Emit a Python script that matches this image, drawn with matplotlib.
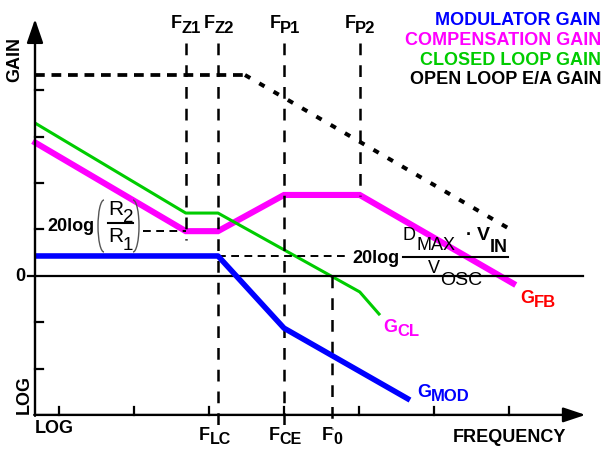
import matplotlib
matplotlib.use('Agg')
import matplotlib.pyplot as plt
from matplotlib import transforms as mtransforms
from matplotlib.patches import Arc

plt.rcParams['font.family'] = ['Liberation Sans', 'DejaVu Sans']

W, H, DPI = 603, 449, 100

# ---- data (x: log-frequency decades, tick = 1 ; y: gain units, tick = 1) ----
x_ticks = [0, 1, 2, 3, 4, 5, 6]
y_ticks = [-2, -1, 1, 2, 3, 4]

F_Z1 = 1.69
F_Z2 = 2.12
F_LC = 2.12
F_P1 = 3.0
F_CE = 3.0
F_P2 = 4.01
F_0 = 3.64

comp_x = [-0.35, F_Z1, F_Z2, F_P1, F_P2, 6.09]
comp_y = [2.90, 0.96, 0.96, 1.74, 1.74, -0.20]
cl_x = [-0.32, F_Z1, F_Z2, F_P2, 4.28]
cl_y = [3.29, 1.35, 1.35, -0.35, -0.85]
mod_x = [-0.32, F_LC, F_CE, 4.68]
mod_y = [0.425, 0.425, -1.13, -2.68]
ol_flat_x = [-0.32, 2.48]
ol_flat_y = [4.325, 4.325]
ol_slope_x = [2.48, 6.08]
ol_slope_y = [4.325, 0.94]

gain_r = 0.96      # 20log(R2/R1) level
gain_mod = 0.425   # 20log(Dmax*Vin/Vosc) level

legend_labels = ['MODULATOR GAIN', 'COMPENSATION GAIN', 'CLOSED LOOP GAIN', 'OPEN LOOP E/A GAIN']

BLUE = '#0000FF'
MAG = '#FF00FF'
GREEN = '#00CC00'
RED = '#FF0000'

fig = plt.figure(figsize=(W / DPI, H / DPI), dpi=DPI)
ax = fig.add_axes([0, 0, 1, 1])
ax.set_xlim(-59 / 75, 544 / 75)
ax.set_ylim((275.7 - 449) / 46.4, 275.7 / 46.4)
ax.axis('off')

X0 = -0.32   # y-axis position
Y0 = -3.0    # x-axis position

# axes with arrows
ax.annotate('', xy=(X0, 5.53), xytext=(X0, Y0 - 0.02),
            arrowprops=dict(arrowstyle='-|>,head_length=1.45,head_width=0.5',
                            lw=1.7, color='black', shrinkA=0, shrinkB=0,
                            mutation_scale=10), zorder=6)
ax.annotate('', xy=(7.02, Y0), xytext=(X0 - 0.01, Y0),
            arrowprops=dict(arrowstyle='-|>,head_length=1.35,head_width=0.45',
                            lw=1.7, color='black', shrinkA=0, shrinkB=0,
                            mutation_scale=10), zorder=6)
# zero line
ax.plot([-0.413, 6.98], [0, 0], color='black', lw=1.6, zorder=5)
# ticks
for g in y_ticks:
    ax.plot([X0, X0 + 8 / 75], [g, g], color='black', lw=1.6, zorder=5)
for u in x_ticks:
    ax.plot([u, u], [Y0, Y0 + 8 / 46.4], color='black', lw=1.6, zorder=5)

# vertical dashed frequency markers
vdash = dict(color='black', lw=1.8, dashes=(4.7, 4.0), zorder=4)
ax.plot([F_Z1, F_Z1], [5.015, 0.77], **vdash)
ax.plot([F_Z2, F_Z2], [5.015, -3.37], **vdash)
ax.plot([F_P1, F_P1], [5.015, -3.37], **vdash)
ax.plot([F_P2, F_P2], [5.015, 1.72], **vdash)
ax.plot([F_0, F_0], [0, -3.30], **vdash)

# horizontal dashed level markers
hdash = dict(color='black', lw=1.4, dashes=(4.0, 2.8), zorder=4)
ax.plot([1.12, F_Z1], [gain_r, gain_r], **hdash)
ax.plot([F_LC, 3.81], [gain_mod, gain_mod], **hdash)

# open loop E/A gain
ax.plot(ol_flat_x, ol_flat_y, color='black', lw=2.7, dashes=(2.6, 1.8), zorder=4)
ax.plot(ol_slope_x, ol_slope_y, color='black', lw=2.9, dashes=(1.5, 2.6), zorder=4)

# gains
ax.plot(comp_x, comp_y, color=MAG, lw=4.4, solid_joinstyle='miter', solid_capstyle='butt', zorder=2)
ax.plot(cl_x, cl_y, color=GREEN, lw=2.2, solid_capstyle='butt', zorder=3)
ax.plot(mod_x, mod_y, color=BLUE, lw=4.0, solid_capstyle='butt', zorder=5.5)

# ---------------- text (pixel coordinates, origin top-left) ----------------
PX = mtransforms.Affine2D().scale(1, -1).translate(0, H)
renderer = fig.canvas.get_renderer()


def txt(x, y, s, size=13, weight='bold', color='black', ha='left', va='baseline', **kw):
    return fig.text(x, y, s, transform=PX, fontsize=size, fontweight=weight,
                    color=color, ha=ha, va=va, **kw)


def sub_text(x, y, base, sub, color='black', size=13, subsize=12, drop=5,
             ha='center', weight='bold', subweight='bold'):
    t1 = txt(0, y, base, size=size, weight=weight, color=color)
    t2 = txt(0, y + drop, sub, size=subsize, weight=subweight, color=color)
    w1 = t1.get_window_extent(renderer).width
    w2 = t2.get_window_extent(renderer).width
    x0 = x - (w1 + w2) / 2 if ha == 'center' else x
    t1.set_x(x0)
    t2.set_x(x0 + w1)


# legend
for lab, col, yb in zip(legend_labels, [BLUE, MAG, GREEN, 'black'], [25, 45, 65, 84]):
    txt(601, yb, lab, color=col, ha='right')

# axis titles
txt(15, 59, 'GAIN', ha='center', va='center', rotation=90)
txt(24, 395, 'LOG', ha='center', va='center', rotation=90)
txt(20, 276.5, '0', ha='center', va='center')
txt(35, 433, 'LOG')
txt(453, 442, 'FREQUENCY')

# frequency labels
for xc, s in [(186, 'Z1'), (219, 'Z2'), (285, 'P1'), (360, 'P2')]:
    sub_text(xc, 28, 'F', s, drop=5)
for xc, s in [(215, 'LC'), (285, 'CE'), (332, '0')]:
    sub_text(xc, 440, 'F', s, drop=4, subsize=11.5)

# curve labels
sub_text(520, 303, 'G', 'FB', color=RED, ha='left', drop=4)
sub_text(383, 332, 'G', 'CL', color=MAG, ha='left', drop=4)
sub_text(417, 397, 'G', 'MOD', color=BLUE, ha='left', drop=4)

# 20log(R2/R1)
txt(47, 231, '20log')
sub_text(108, 215, 'R', '2', size=15, subsize=13.5, drop=7, ha='left', weight='normal', subweight='normal')
sub_text(108, 242, 'R', '1', size=15, subsize=13.5, drop=8, ha='left', weight='normal', subweight='normal')
ax.add_artist(plt.Line2D([108, 133], [223, 223], transform=PX, color='black', lw=1.5))
for xc, th1, th2 in [(104, 90, 270), (133, 270, 90)]:
    arc = Arc((xc, 226), 12, 52, theta1=th1, theta2=th2, transform=PX,
              color='#555555', lw=1.0)
    fig.add_artist(arc)

# 20log(Dmax*Vin/Vosc)
txt(352, 263, '20log')
txt(403, 240, 'D', size=13, weight='normal')
txt(417, 250, 'MAX', size=13, weight='normal')
txt(466, 240, '·', size=13, weight='bold')
txt(477, 240, 'V', size=14, weight='bold')
txt(490, 252, 'IN', size=13, weight='bold')
fig.add_artist(plt.Line2D([403, 508], [257, 257], transform=PX, color='black', lw=1.5))
txt(428, 273, 'V', size=13, weight='normal')
txt(440, 285, 'OSC', size=14, weight='normal')

fig.savefig('out.png', dpi=DPI)
